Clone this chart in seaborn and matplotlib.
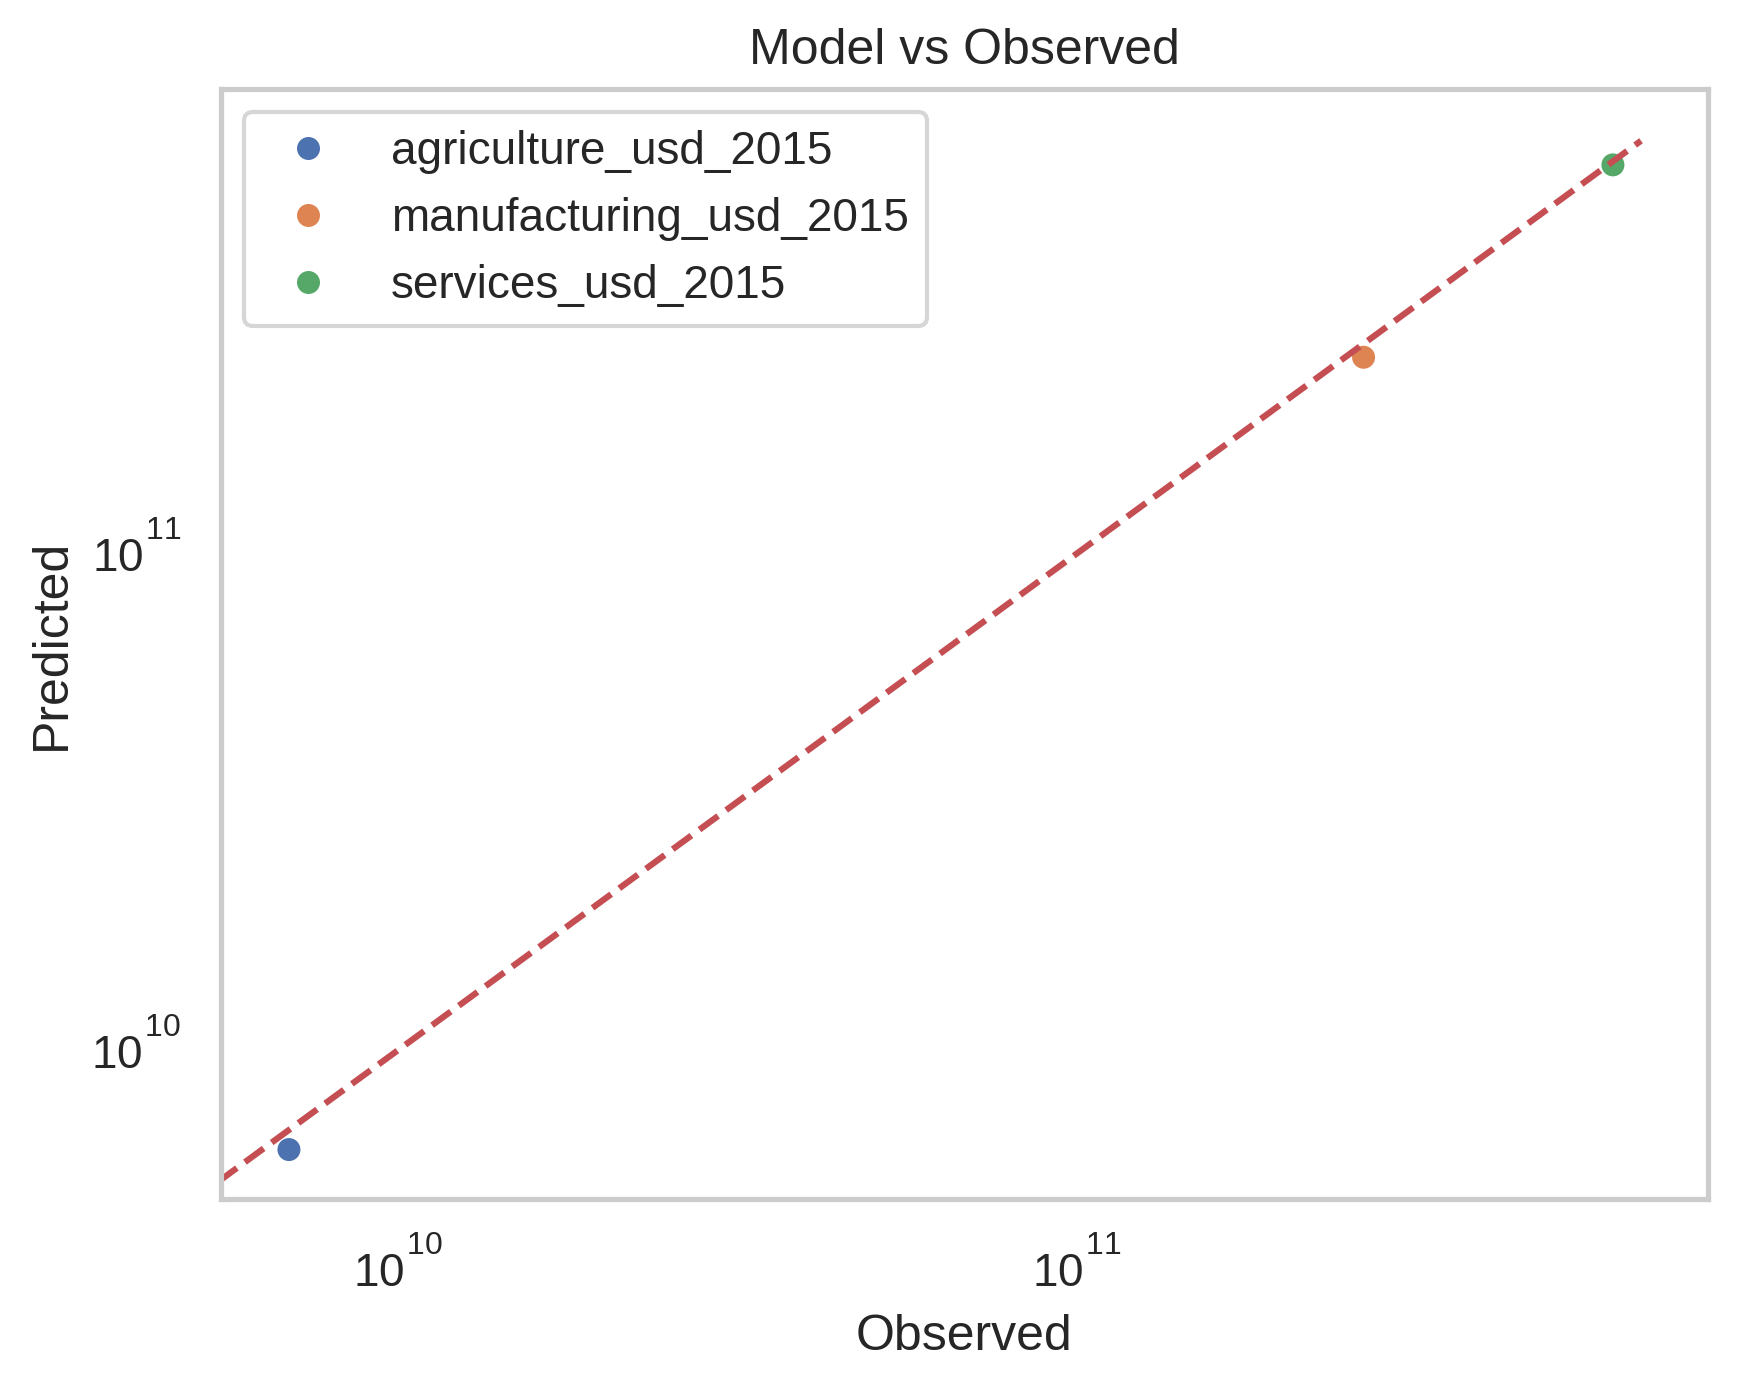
import numpy as np
import pandas as pd
import matplotlib
from matplotlib import pyplot as plt
import seaborn as sns
import matplotlib._mathtext as mathtext_mod

sectors = ['agriculture_usd_2015', 'manufacturing_usd_2015', 'services_usd_2015']
observed = [6.9e9, 2.64e11, 6.15e11]
predicted = [6.3e9, 2.48e11, 6.05e11]

df = pd.DataFrame({'Sector': sectors, 'Observed': observed, 'Predicted': predicted})

sns.set_theme(style='whitegrid', context='notebook')
plt.rcParams['font.family'] = ['Liberation Sans', 'DejaVu Sans']
plt.rcParams['mathtext.default'] = 'regular'
# raise the exponent on the log tick labels a bit, like the older mathtext layout
mathtext_mod.FontConstantsBase.sup1 = 1.28
mathtext_mod.FontConstantsBase.delta = 0.15

fig = plt.figure(figsize=(1738 / 300, 1391 / 300), dpi=300)
ax = fig.add_axes([221 / 1738, 192 / 1391, 1487 / 1738, 1110 / 1391])

sns.scatterplot(data=df, x='Observed', y='Predicted', hue='Sector', ax=ax)

# 1:1 reference line
hi = max(observed) * 1.1
lo = min(observed) * 0.5
ax.plot([lo, hi], [lo, hi], 'r--')

ax.set_xscale('log')
ax.set_yscale('log')
ax.set_xlim(5.48e9, 8.49e11)
ax.set_ylim(5.01e9, 8.6e11)
ax.grid(False)
for lab in ax.get_yticklabels():
    lab.set_va('center')

ax.set_xlabel('Observed')
ax.set_ylabel('Predicted')
ax.set_title('Model vs Observed')
ax.legend(loc='upper left', title=None)

fig.savefig('out.png', dpi=300)
plt.close('all')
